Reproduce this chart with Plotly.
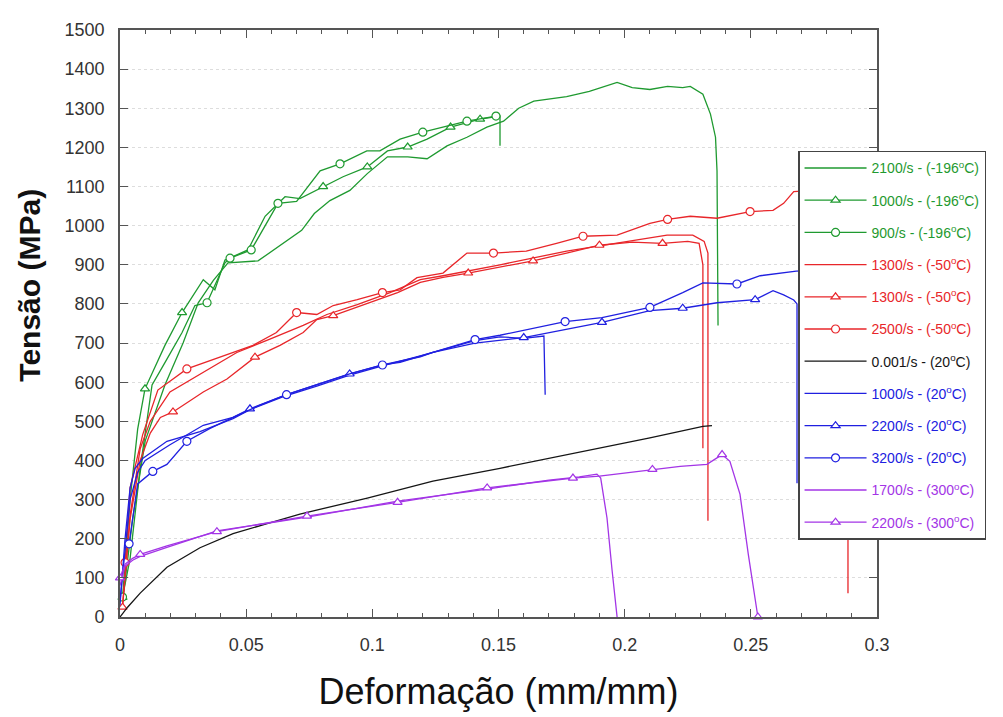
import plotly.graph_objects as go

# ---------------- data (strain mm/mm, stress MPa) ----------------
# -196 C
g2100_x = [0.001, 0.005, 0.010, 0.0178, 0.025, 0.031, 0.037, 0.0428, 0.0547, 0.0666,
           0.072, 0.077, 0.0832, 0.0911, 0.098, 0.106, 0.114, 0.1217, 0.1296, 0.1375,
           0.1454, 0.152, 0.158, 0.164, 0.177, 0.186, 0.197, 0.203, 0.210, 0.217,
           0.223, 0.226, 0.231, 0.234, 0.236, 0.2366, 0.237]
g2100_y = [40, 250, 450, 593, 700, 803, 860, 905, 910, 963,
           988, 1031, 1064, 1090, 1133, 1176, 1176, 1171, 1204, 1226,
           1252, 1267, 1300, 1318, 1330, 1343, 1366, 1353, 1348, 1356,
           1353, 1356, 1336, 1285, 1226, 1140, 745]
g2100_mk = []

g1000_x = [0.001, 0.004, 0.007, 0.0099, 0.0178, 0.0246, 0.033, 0.0376, 0.0416, 0.0507,
           0.0575, 0.0654, 0.0713, 0.0805, 0.0884, 0.098, 0.106, 0.114, 0.1217, 0.131,
           0.1427, 0.1506, 0.1506]
g1000_y = [50, 300, 480, 583, 694, 778, 862, 836, 912, 938,
           1024, 1074, 1069, 1100, 1125, 1150, 1191, 1201, 1221, 1252,
           1272, 1280, 1204]
g1000_mk = [0, 3, 5, 13, 15, 17, 19, 20]

g900_x = [0.001, 0.004, 0.008, 0.0127, 0.0178, 0.0246, 0.0297, 0.0345, 0.0416, 0.0436,
          0.052, 0.0626, 0.070, 0.0793, 0.0872, 0.0978, 0.103, 0.111, 0.120, 0.1295,
          0.1375, 0.149]
g900_y = [51, 150, 380, 593, 650, 727, 796, 803, 905, 917,
          938, 1057, 1062, 1140, 1158, 1191, 1191, 1221, 1239, 1254,
          1267, 1280]
g900_mk = [0, 7, 9, 10, 11, 14, 18, 20, 21]

# -50 C
r1300a_x = [0.001, 0.004, 0.008, 0.012, 0.0198, 0.033, 0.0463, 0.0594, 0.0726, 0.082,
            0.094, 0.107, 0.119, 0.128, 0.1506, 0.177, 0.203, 0.2168, 0.227, 0.2315,
            0.233, 0.233]
r1300a_y = [30, 260, 430, 500, 575, 626, 676, 710, 745, 773,
            798, 829, 862, 872, 900, 935, 963, 976, 976, 960,
            930, 246]
r1300a_mk = []

r1300b_x = [0.001, 0.004, 0.008, 0.012, 0.016, 0.021, 0.033, 0.0424, 0.0535, 0.0634,
            0.0726, 0.078, 0.0845, 0.099, 0.11, 0.119, 0.128, 0.138, 0.1506, 0.1637,
            0.177, 0.190, 0.203, 0.215, 0.225, 0.2295, 0.231, 0.231]
r1300b_y = [25, 250, 400, 470, 510, 524, 575, 608, 664, 694,
            727, 760, 770, 803, 829, 855, 868, 879, 895, 910,
            930, 950, 958, 955, 960, 955, 900, 431]
r1300b_mk = [0, 5, 8, 12, 17, 19, 21, 23]

r2500_x = [0.002, 0.004, 0.009, 0.015, 0.0265, 0.0396, 0.0527, 0.062, 0.070, 0.078,
           0.0845, 0.094, 0.104, 0.111, 0.1177, 0.128, 0.1375, 0.148, 0.161, 0.173,
           0.1835, 0.197, 0.210, 0.217, 0.226, 0.2366, 0.2497, 0.2588, 0.263, 0.267,
           0.275, 0.283, 0.2885, 0.2885]
r2500_y = [139, 330, 466, 580, 634, 664, 694, 727, 778, 773,
           796, 811, 829, 836, 867, 879, 930, 930, 935, 955,
           973, 976, 1006, 1016, 1024, 1019, 1036, 1039, 1057, 1087,
           1090, 1095, 1090, 61]
r2500_mk = [0, 4, 8, 12, 17, 20, 23, 26]

# 20 C
k0001_x = [0, 0.003, 0.008, 0.0186, 0.0317, 0.0448, 0.058, 0.0713, 0.098, 0.124,
           0.1506, 0.170, 0.190, 0.210, 0.231, 0.2346]
k0001_y = [0, 25, 61, 127, 177, 213, 238, 263, 304, 347,
           380, 405, 431, 458, 487, 489]
k0001_mk = []

b1000_x = [0.0, 0.002, 0.004, 0.006, 0.009, 0.0186, 0.0317, 0.0448, 0.0515, 0.066,
           0.078, 0.091, 0.104, 0.119, 0.1407, 0.1506, 0.16, 0.168, 0.1685]
b1000_y = [30, 200, 330, 380, 405, 449, 474, 507, 530, 566,
           590, 618, 642, 667, 706, 716, 712, 718, 568]
b1000_mk = []

b2200_x = [0.0, 0.002, 0.004, 0.007, 0.01, 0.0198, 0.033, 0.0448, 0.0515, 0.066,
           0.078, 0.091, 0.104, 0.119, 0.124, 0.1407, 0.16, 0.176, 0.191, 0.210,
           0.223, 0.2366, 0.2517, 0.2588, 0.263, 0.267, 0.2683, 0.2683]
b2200_y = [40, 180, 300, 370, 400, 440, 490, 510, 532, 568,
           593, 621, 644, 665, 676, 700, 714, 735, 753, 783,
           789, 803, 811, 834, 823, 810, 800, 342]
b2200_mk = [8, 11, 16, 18, 20, 22]

b3200_x = [0.0036, 0.007, 0.013, 0.0186, 0.0265, 0.0357, 0.0448, 0.055, 0.066, 0.078,
           0.091, 0.104, 0.111, 0.124, 0.1407, 0.1506, 0.1764, 0.191, 0.210, 0.223,
           0.231, 0.2445, 0.2537, 0.268, 0.275]
b3200_y = [187, 340, 372, 390, 449, 482, 510, 540, 568, 593,
           621, 644, 651, 676, 709, 720, 755, 765, 791, 829,
           854, 851, 872, 884, 886]
b3200_mk = [0, 2, 4, 8, 11, 14, 16, 18, 21]

# 300 C
p1700_x = [0, 0.002, 0.005, 0.008, 0.0186, 0.0384, 0.0741, 0.11, 0.1455, 0.170,
           0.182, 0.189, 0.1905, 0.193, 0.195, 0.197]
p1700_y = [80, 130, 145, 155, 178, 220, 255, 296, 327, 350,
           358, 365, 355, 253, 120, 0]
p1700_mk = []

p2200_x = [0, 0.002, 0.005, 0.008, 0.0186, 0.0384, 0.0741, 0.11, 0.1455, 0.170,
           0.1795, 0.19, 0.2, 0.211, 0.222, 0.2326, 0.2386, 0.2417, 0.2457, 0.249,
           0.2528]
p2200_y = [100, 135, 150, 160, 182, 218, 258, 293, 330, 348,
           355, 360, 368, 377, 385, 390, 415, 398, 314, 160,
           0]
p2200_mk = [0, 3, 5, 6, 7, 8, 10, 13, 16, 20]

legend_labels = [
    "2100/s - (-196<sup>o</sup>C)", "1000/s - (-196<sup>o</sup>C)", "900/s - (-196<sup>o</sup>C)",
    "1300/s - (-50<sup>o</sup>C)", "1300/s - (-50<sup>o</sup>C)", "2500/s - (-50<sup>o</sup>C)",
    "0.001/s - (20<sup>o</sup>C)", "1000/s - (20<sup>o</sup>C)", "2200/s - (20<sup>o</sup>C)",
    "3200/s - (20<sup>o</sup>C)", "1700/s - (300<sup>o</sup>C)", "2200/s - (300<sup>o</sup>C)",
]
x_ticks = [0, 0.05, 0.1, 0.15, 0.2, 0.25, 0.3]
x_tick_text = ["0", "0.05", "0.1", "0.15", "0.2", "0.25", "0.3"]
x_title = "Deformação (mm/mm)"
y_title = "Tensão (MPa)"

# ---------------- styling ----------------
GREEN, RED, BLACK, BLUE, PURPLE = "#1f9a30", "#e8262a", "#151515", "#2020e0", "#a335e6"

series = [
    (g2100_x, g2100_y, g2100_mk, GREEN, None),
    (g1000_x, g1000_y, g1000_mk, GREEN, "triangle-up"),
    (g900_x, g900_y, g900_mk, GREEN, "circle"),
    (r1300a_x, r1300a_y, r1300a_mk, RED, None),
    (r1300b_x, r1300b_y, r1300b_mk, RED, "triangle-up"),
    (r2500_x, r2500_y, r2500_mk, RED, "circle"),
    (k0001_x, k0001_y, k0001_mk, BLACK, None),
    (b1000_x, b1000_y, b1000_mk, BLUE, None),
    (b2200_x, b2200_y, b2200_mk, BLUE, "triangle-up"),
    (b3200_x, b3200_y, b3200_mk, BLUE, "circle"),
    (p1700_x, p1700_y, p1700_mk, PURPLE, None),
    (p2200_x, p2200_y, p2200_mk, PURPLE, "triangle-up"),
]

fig = go.Figure()
for i, (xs, ys, mk, col, sym) in enumerate(series):
    grp = f"g{i}"
    fig.add_trace(go.Scatter(x=xs, y=ys, mode="lines", line=dict(color=col, width=1.3),
                             legendgroup=grp, showlegend=False, hoverinfo="skip"))
    if sym:
        fig.add_trace(go.Scatter(x=[xs[j] for j in mk], y=[ys[j] for j in mk], mode="markers",
                                 marker=dict(symbol=sym, size=8, color="white",
                                             line=dict(color=col, width=1.2)),
                                 legendgroup=grp, showlegend=False, cliponaxis=False))
    fig.add_trace(go.Scatter(
        x=[None], y=[None], mode="lines+markers" if sym else "lines",
        line=dict(color=col, width=1.3),
        marker=dict(symbol=sym or "circle", size=8, color="white", line=dict(color=col, width=1.2)),
        name=f'<span style="color:{col}">{legend_labels[i]}</span>',
        legendgroup=grp, showlegend=True))

AX = "#555555"
fig.update_layout(
    width=995, height=709,
    margin=dict(l=112, r=126, t=17, b=100),
    paper_bgcolor="white", plot_bgcolor="white",
    font=dict(family="Arial, Liberation Sans, sans-serif", color="#222"),
    legend=dict(x=0.8957, y=0.794, xanchor="left", yanchor="top",
                bgcolor="white", bordercolor="#444", borderwidth=1.5,
                font=dict(size=14, family="Arial, Liberation Sans, sans-serif"),
                traceorder="grouped", tracegroupgap=11, itemwidth=62),
    xaxis=dict(range=[0, 0.3], tickvals=x_ticks, ticktext=x_tick_text,
               ticks="inside", ticklen=8, tickcolor=AX, tickwidth=1.3,
               minor=dict(dtick=0.01, ticks="inside", ticklen=4, tickcolor=AX, tickwidth=1),
               showline=True, linecolor=AX, linewidth=1.6, mirror="ticks",
               showgrid=False, zeroline=False,
               tickfont=dict(size=18, color="#333"), ticklabelstandoff=11,
               title=dict(text=x_title, font=dict(size=36, color="#111"), standoff=24)),
    yaxis=dict(range=[0, 1500], dtick=100,
               ticks="inside", ticklen=8, tickcolor=AX, tickwidth=1.3,
               showline=True, linecolor=AX, linewidth=1.6, mirror="ticks",
               showgrid=True, gridcolor="#dddddd", griddash="dot", gridwidth=1,
               zeroline=False,
               tickfont=dict(size=18, color="#333"), ticklabelstandoff=10),
    annotations=[dict(text=f"<b>{y_title}</b>", textangle=-90, showarrow=False,
                      xref="paper", yref="paper", x=-0.119, y=0.566,
                      xanchor="center", yanchor="middle",
                      font=dict(size=30, color="#111"))],
)

fig.write_html("out.html")
